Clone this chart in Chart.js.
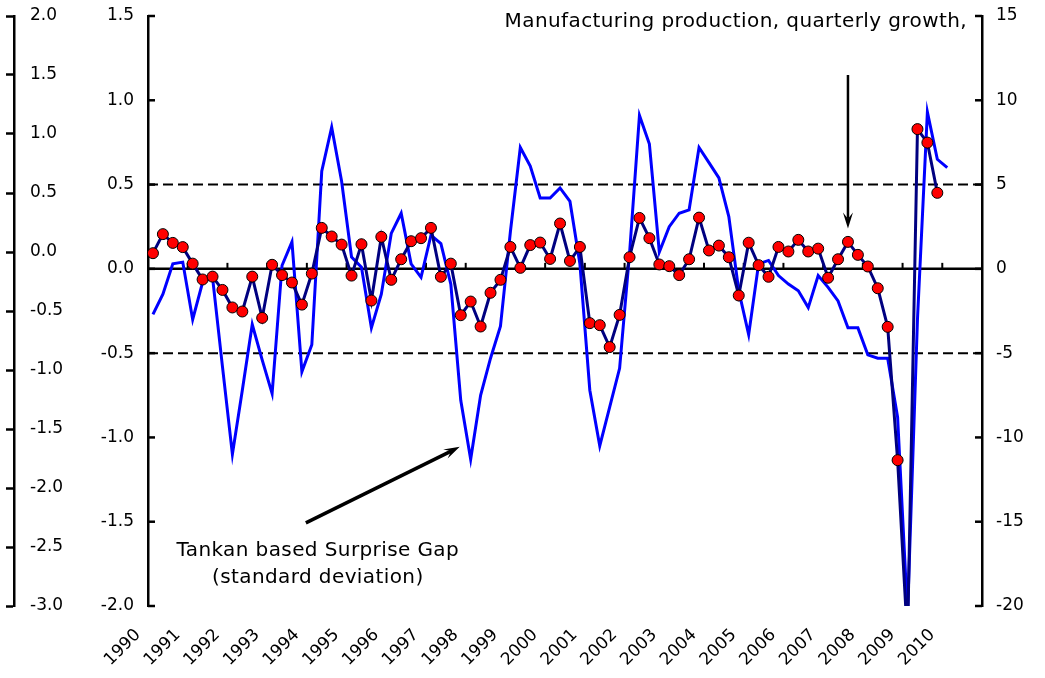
<!DOCTYPE html>
<html>
<head>
<meta charset="utf-8">
<script src="https://cdn.jsdelivr.net/npm/chart.js@4"></script>
<style>
  html, body { margin: 0; padding: 0; background: #fff; }
  #wrap { width: 1045px; height: 678px; }
</style>
</head>
<body>
<div id="wrap"><canvas id="chart" width="1045" height="678"></canvas></div>
<script>
const years = ['1990', '1991', '1992', '1993', '1994', '1995', '1996', '1997', '1998', '1999', '2000',
               '2001', '2002', '2003', '2004', '2005', '2006', '2007', '2008', '2009', '2010'];
const quarters = [];
years.forEach(y => { for (let q = 1; q <= 4; q++) quarters.push(y + 'Q' + q); });

// Manufacturing production, quarterly growth (%) - right axis, red dots
const production = [
    0.93, 2.06, 1.54, 1.29, 0.31, -0.63, -0.46, -1.25,
    -2.29, -2.53, -0.46, -2.91, 0.24, -0.37, -0.81, -2.12,
    -0.28, 2.43, 1.92, 1.44, -0.40, 1.46, -1.88, 1.90,
    -0.65, 0.57, 1.64, 1.82, 2.43, -0.47, 0.31, -2.75,
    -1.94, -3.42, -1.42, -0.65, 1.30, 0.06, 1.41, 1.56,
    0.59, 2.69, 0.47, 1.30, -3.22, -3.34, -4.64, -2.73,
    0.69, 3.02, 1.82, 0.26, 0.16, -0.37, 0.57, 3.04,
    1.09, 1.38, 0.69, -1.58, 1.55, 0.22, -0.47, 1.30,
    1.03, 1.72, 1.03, 1.20, -0.53, 0.57, 1.60, 0.83,
    0.14, -1.15, -3.44, -11.35, -22.0, 8.29, 7.49, 4.51
];

// Tankan based Surprise Gap (standard deviation) - inner left axis, blue line
const surpriseGap = [
    -0.27, -0.15, 0.03, 0.04, -0.30, -0.08, -0.05, -0.58,
    -1.10, -0.72, -0.33, -0.54, -0.74, 0.02, 0.16, -0.61,
    -0.45, 0.58, 0.84, 0.52, 0.07, 0.01, -0.35, -0.15,
    0.21, 0.33, 0.03, -0.05, 0.20, 0.15, -0.09, -0.78,
    -1.13, -0.75, -0.53, -0.34, 0.22, 0.72, 0.61, 0.42,
    0.42, 0.48, 0.40, 0.03, -0.72, -1.05, -0.82, -0.59,
    0.09, 0.91, 0.74, 0.10, 0.25, 0.33, 0.35, 0.72,
    0.63, 0.54, 0.31, -0.13, -0.39, 0.03, 0.05, -0.04,
    -0.09, -0.13, -0.23, -0.04, -0.11, -0.19, -0.35, -0.35,
    -0.51, -0.53, -0.53, -0.88, -2.05, -0.30, 0.93, 0.65,
    0.60
];

const refLines = [0.5, -0.5];

Chart.defaults.font.family = '"DejaVu Sans", Verdana, sans-serif';
Chart.defaults.font.size = 17;
Chart.defaults.color = '#000';

function drawArrow(ctx, x1, y1, x2, y2, width) {
    const ang = Math.atan2(y2 - y1, x2 - x1);
    const c = Math.cos(ang), s = Math.sin(ang);
    const len = 16, w = 5;
    ctx.lineWidth = width;
    ctx.beginPath();
    ctx.moveTo(x1, y1);
    ctx.lineTo(x2 - len * 0.6 * c, y2 - len * 0.6 * s);
    ctx.stroke();
    ctx.beginPath();
    ctx.moveTo(x2, y2);
    ctx.lineTo(x2 - len * c + w * s, y2 - len * s - w * c);
    ctx.lineTo(x2 - len * 0.6 * c, y2 - len * 0.6 * s);
    ctx.lineTo(x2 - len * c - w * s, y2 - len * s + w * c);
    ctx.closePath();
    ctx.fill();
}

// keep the plot area where the layout padding puts it
const noPad = s => { s.paddingTop = 0; s.paddingBottom = 0; };

const decorations = {
    id: 'decorations',
    beforeDatasetsDraw(chart) {
        const {ctx, chartArea: a, scales} = chart;
        const y = scales.y, x = scales.x;
        ctx.save();
        ctx.strokeStyle = '#000';
        ctx.lineWidth = 2;
        ctx.setLineDash([10, 5]);
        refLines.forEach(v => {
            const py = y.getPixelForValue(v);
            ctx.beginPath();
            ctx.moveTo(a.left, py);
            ctx.lineTo(a.right, py);
            ctx.stroke();
        });
        ctx.setLineDash([]);
        const zy = y.getPixelForValue(0);
        ctx.lineWidth = 2.5;
        ctx.beginPath();
        ctx.moveTo(a.left, zy);
        ctx.lineTo(a.right, zy);
        ctx.stroke();
        // year ticks on the zero line
        const half = (x.getPixelForValue(1) - x.getPixelForValue(0)) / 2;
        ctx.lineWidth = 2;
        for (let i = 4; i < quarters.length; i += 4) {
            const px = x.getPixelForValue(i) - half;
            ctx.beginPath();
            ctx.moveTo(px, zy);
            ctx.lineTo(px, zy - 6);
            ctx.stroke();
        }
        ctx.restore();
    },
    afterDraw(chart) {
        const {ctx, chartArea: a, scales} = chart;
        const {x, y, y2} = scales;
        ctx.save();
        ctx.strokeStyle = '#000';
        ctx.fillStyle = '#000';
        ctx.lineWidth = 2.5;
        // inward ticks
        y.ticks.forEach(t => {
            const py = y.getPixelForValue(t.value);
            ctx.beginPath(); ctx.moveTo(a.left, py); ctx.lineTo(a.left + 7, py); ctx.stroke();
        });
        y2.ticks.forEach(t => {
            const py = y2.getPixelForValue(t.value);
            ctx.beginPath(); ctx.moveTo(a.right - 7, py); ctx.lineTo(a.right, py); ctx.stroke();
        });

        // annotations
        ctx.font = '20px "DejaVu Sans", Verdana, sans-serif';
        ctx.letterSpacing = '0.4px';
        ctx.textBaseline = 'alphabetic';
        ctx.textAlign = 'right';
        ctx.fillText('Manufacturing production, quarterly growth,', 967, 27);
        ctx.textAlign = 'center';
        const tx = x.getPixelForValue(16.6);
        ctx.fillText('Tankan based Surprise Gap', tx, 556);
        ctx.fillText('(standard deviation)', tx, 583);
        ctx.letterSpacing = '0px';

        drawArrow(ctx, x.getPixelForValue(15.4), y.getPixelForValue(-1.507),
                  x.getPixelForValue(30.9), y.getPixelForValue(-1.056), 3.5);
        drawArrow(ctx, x.getPixelForValue(70), y2.getPixelForValue(11.5),
                  x.getPixelForValue(70), y2.getPixelForValue(2.4), 2.5);
        ctx.restore();
    }
};

new Chart(document.getElementById('chart'), {
    type: 'line',
    data: {
        labels: quarters,
        datasets: [
            {
                label: 'Manufacturing production, quarterly growth',
                data: production,
                yAxisID: 'y2',
                borderColor: '#000080',
                borderWidth: 3,
                pointRadius: 5.5,
                pointBackgroundColor: '#ff0000',
                pointBorderColor: '#000',
                pointBorderWidth: 1,
                tension: 0
            },
            {
                label: 'Tankan based Surprise Gap',
                data: surpriseGap,
                yAxisID: 'y',
                borderColor: '#0000ff',
                borderWidth: 3,
                pointRadius: 0,
                tension: 0
            }
        ]
    },
    options: {
        responsive: false,
        animation: false,
        layout: { padding: { top: 16, left: 0, right: 0, bottom: 0 } },
        plugins: {
            legend: { display: false },
            tooltip: { enabled: false }
        },
        scales: {
            x: {
                type: 'category',
                offset: true,
                grid: { display: false },
                border: { display: false },
                ticks: {
                    autoSkip: false,
                    minRotation: 45,
                    maxRotation: 45,
                    padding: 11,
                    labelOffset: -15,
                    callback: (v, i) => i % 4 === 0 ? quarters[i].slice(0, 4) : ''
                },
                afterFit: s => { s.height = 72; }
            },
            yFar: {
                position: 'left',
                weight: 10,
                min: -3,
                max: 2,
                grid: { drawOnChartArea: false, tickLength: 8, tickWidth: 2.5, tickColor: '#000' },
                border: { color: '#000', width: 2.5 },
                ticks: { stepSize: 0.5, mirror: true, padding: 16, callback: v => v.toFixed(1) },
                afterFit: s => { s.width = 14; noPad(s); }
            },
            y: {
                position: 'left',
                weight: 0,
                min: -2,
                max: 1.5,
                grid: { drawOnChartArea: false, drawTicks: false },
                border: { color: '#000', width: 2.5 },
                ticks: { stepSize: 0.5, padding: 14, callback: v => v.toFixed(1) },
                afterFit: s => { s.width = 134; noPad(s); }
            },
            y2: {
                position: 'right',
                min: -20,
                max: 15,
                grid: { drawOnChartArea: false, drawTicks: false },
                border: { color: '#000', width: 2.5 },
                ticks: { stepSize: 5, padding: 14 },
                afterFit: s => { s.width = 63; noPad(s); }
            }
        }
    },
    plugins: [decorations]
});
</script>
</body>
</html>
